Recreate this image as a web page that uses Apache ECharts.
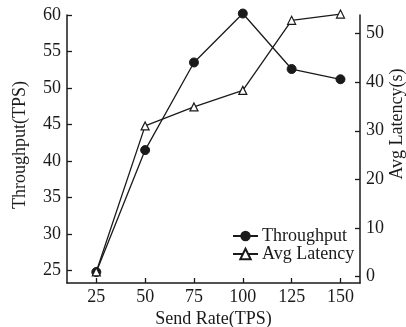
<!DOCTYPE html>
<html><head><meta charset="utf-8">
<script src="https://cdn.jsdelivr.net/npm/echarts@6/dist/echarts.min.js"></script>
<style>html,body{margin:0;padding:0;background:#fff}#c{width:406px;height:327px}</style>
</head><body><div id="c"></div>
<script>
const sendRate = [25, 50, 75, 100, 125, 150];
const throughput = [24.8, 41.5, 53.5, 60.2, 52.6, 51.2];
const avgLatency = [1.0, 31.0, 34.9, 38.3, 52.7, 54.0];
const xTicks = [25, 50, 75, 100, 125, 150];
const leftTicks = [25, 30, 35, 40, 45, 50, 55, 60];
const rightTicks = [0, 10, 20, 30, 40, 50];

const FONT = 'Liberation Serif';
const INK = '#1a1a1a';
const chart = echarts.init(document.getElementById('c'), null, {renderer: 'canvas'});
const axisCommon = {
  axisLine: {show: true, onZero: false, lineStyle: {color: INK, width: 1.5}},
  axisTick: {show: true, inside: true, length: 5, lineStyle: {color: INK, width: 1.3}},
  splitLine: {show: false},
  nameMoveOverlap: false,
  nameTextStyle: {fontFamily: FONT, fontSize: 18, color: INK},
};
chart.setOption({
  animation: false,
  grid: {left: 67, right: 46, top: 15, bottom: 44, containLabel: false, outerBoundsMode: 'none'},
  legend: {
    orient: 'vertical', left: 227, top: 222, itemWidth: 25, itemHeight: 13, itemGap: 0,
    textStyle: {fontFamily: FONT, fontSize: 18, color: INK, lineHeight: 16, padding: [0,0,0,-1]},
    data: ['Throughput', 'Avg Latency']
  },
  xAxis: Object.assign({}, axisCommon, {
    type: 'value', min: 10, max: 160,
    name: 'Send Rate(TPS)', nameLocation: 'middle', nameGap: 27,
    axisTick: Object.assign({}, axisCommon.axisTick, {customValues: xTicks}),
    axisLabel: {customValues: xTicks, margin: 5, fontFamily: FONT, fontSize: 18, color: INK}
  }),
  yAxis: [
    Object.assign({}, axisCommon, {
      type: 'value', position: 'left', min: 23.3, max: 60,
      name: 'Throughput(TPS)', nameLocation: 'middle', nameGap: 38, nameRotate: 90,
      nameTextStyle: Object.assign({}, axisCommon.nameTextStyle, {padding: [0, 0, 0, 8]}),
      axisTick: Object.assign({}, axisCommon.axisTick, {customValues: leftTicks}),
      axisLabel: {customValues: leftTicks, margin: 6, fontFamily: FONT, fontSize: 18, color: INK}
    }),
    Object.assign({}, axisCommon, {
      type: 'value', position: 'right', min: -1.3, max: 53.8,
      name: 'Avg Latency(s)', nameLocation: 'middle', nameGap: 28, nameRotate: 90,
      nameTextStyle: Object.assign({}, axisCommon.nameTextStyle, {padding: [0, 0, 0, 50]}),
      axisTick: Object.assign({}, axisCommon.axisTick, {customValues: rightTicks}),
      axisLabel: {customValues: rightTicks, margin: 6, fontFamily: FONT, fontSize: 18, color: INK}
    })
  ],
  series: [
    {
      name: 'Throughput', type: 'line', yAxisIndex: 0, clip: false,
      data: sendRate.map((x, i) => [x, throughput[i]]),
      symbol: 'circle', symbolSize: 9,
      lineStyle: {color: INK, width: 1.3},
      itemStyle: {color: INK, borderColor: INK}
    },
    {
      name: 'Avg Latency', type: 'line', yAxisIndex: 1, clip: false,
      data: sendRate.map((x, i) => [x, avgLatency[i]]),
      symbol: 'triangle', symbolSize: 8,
      lineStyle: {color: INK, width: 1.3},
      itemStyle: {color: '#fff', borderColor: INK, borderWidth: 1.2}
    }
  ]
});
</script></body></html>
